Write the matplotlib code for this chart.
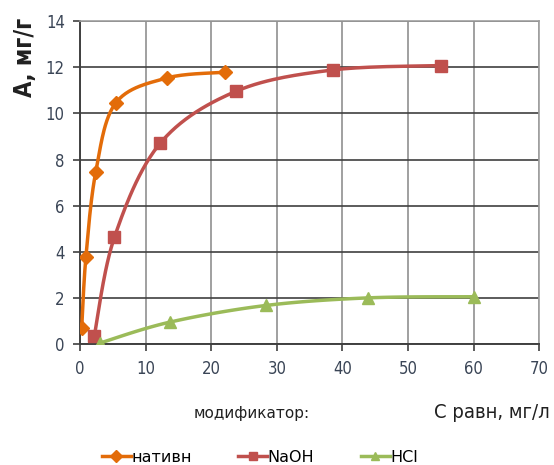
import numpy as np
import matplotlib
matplotlib.use("Agg")
import matplotlib.pyplot as plt
from matplotlib.lines import Line2D

x_nat = [0.26, 0.9, 2.4, 5.44, 13.2, 22.07]
y_nat = [0.70, 3.78, 7.46, 10.45, 11.53, 11.78]
x_naoh = [2.18, 5.24, 12.2, 23.8, 38.5, 55.06]
y_naoh = [0.37, 4.63, 8.70, 10.96, 11.88, 12.07]
x_hcl = [3.0, 13.7, 28.3, 43.9, 60.0]
y_hcl = [0.05, 0.96, 1.68, 2.01, 2.06]
labels = ["нативн", "NaOH", "HCl"]
xticks = [0, 10, 20, 30, 40, 50, 60, 70]
yticks = [0, 2, 4, 6, 8, 10, 12, 14]

colors = ["#E36C09", "#C0504D", "#9BBB59"]
markers = ["D", "s", "^"]


def smooth(xs, ys, n=30):
    xs = np.asarray(xs, float)
    ys = np.asarray(ys, float)
    P = np.column_stack([xs, ys])
    out = []
    for i in range(len(P) - 1):
        p0 = P[i - 1] if i > 0 else P[i]
        p1 = P[i]
        p2 = P[i + 1]
        p3 = P[i + 2] if i + 2 < len(P) else P[i + 1]
        c1 = p1 + (p2 - p0) / 6.0
        c2 = p2 - (p3 - p1) / 6.0
        t = np.linspace(0, 1, n)[:, None]
        seg = ((1 - t) ** 3) * p1 + 3 * ((1 - t) ** 2) * t * c1 + 3 * (1 - t) * t ** 2 * c2 + t ** 3 * p2
        out.append(seg)
    arr = np.vstack(out)
    return arr[:, 0], arr[:, 1]


fig = plt.figure(figsize=(5.54, 4.65), dpi=100)
ax = fig.add_axes([0.1444, 0.2596, 0.8291, 0.6952])

tickfont = dict(family=["DejaVu Sans"], stretch="condensed", size=12)

series = [(x_nat, y_nat), (x_naoh, y_naoh), (x_hcl, y_hcl)]
for (xs, ys), c, m in zip(series, colors, markers):
    sx, sy = smooth(xs, ys)
    ax.plot(sx, sy, color=c, lw=2.5, zorder=3)
    ms = 7.5 if m == "D" else 8
    ax.plot(xs, ys, ls="none", marker=m, color=c, ms=ms, zorder=4)

ax.set_xlim(0, 70)
ax.set_ylim(0, 14)
ax.set_xticks(xticks)
ax.set_yticks(yticks)
ax.set_xticklabels([str(v) for v in xticks], fontdict=tickfont, color="#3a4556")
ax.set_yticklabels([str(v) for v in yticks], fontdict=tickfont, color="#3a4556")
ax.grid(True, axis="y", color="#404040", lw=1.2)
ax.grid(True, axis="x", color="#909090", lw=1.2)
ax.tick_params(direction="out", length=5, width=1.2, color="#404040", pad=6)
for s in ["top", "right"]:
    ax.spines[s].set_color("#a0a0a0")
    ax.spines[s].set_linewidth(1.2)
for s in ["left", "bottom"]:
    ax.spines[s].set_color("#404040")
    ax.spines[s].set_linewidth(1.4)
ax.set_axisbelow(True)

fig.text(25 / 554, 1 - 57 / 465, "А, мг/г", rotation=90, family=["DejaVu Sans"], stretch="condensed",
         fontsize=17, fontweight="bold", ha="center", va="center", color="#202020")
fig.text(550 / 554, 1 - 412 / 465, "С равн, мг/л", family=["DejaVu Sans"], stretch="condensed",
         fontsize=14.5, ha="right", va="center", color="#202020")
fig.text(252 / 554, 1 - 413 / 465, "модификатор:", fontsize=11, ha="center", va="center",
         color="#202020")

handles = [Line2D([0], [0], color=c, lw=2.5, marker=m, ms=6) for c, m in zip(colors, markers)]
fig.legend(handles, labels, loc="center", bbox_to_anchor=(260 / 554, 1 - 457 / 465), ncol=3,
           frameon=False, fontsize=11.5, handlelength=1.8, handletextpad=0.05, columnspacing=2.9)

fig.savefig("out.png", dpi=100)
